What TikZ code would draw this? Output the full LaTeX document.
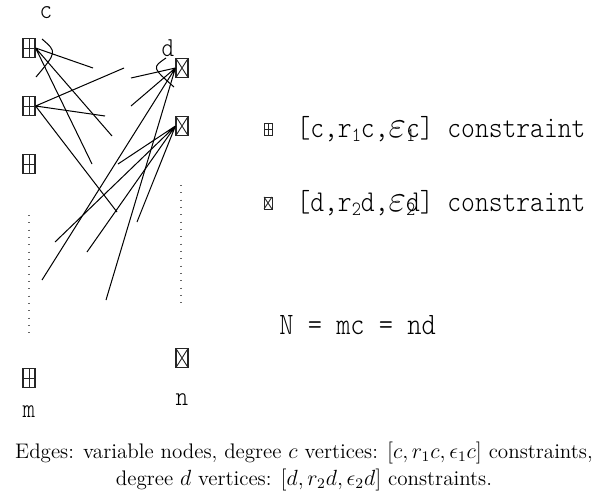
\documentclass[tikz,border=0pt]{standalone}
\usepackage{fontspec}
\usetikzlibrary{positioning}
\newfontfamily\labelfont[FakeStretch=0.87]{lmmonolt10-regular.otf}
\newcommand\lowsub[1]{\raisebox{-0.35ex}{\fontsize{11}{13}\selectfont #1}}
\tikzset{
  cbox/.style={draw=black!85, rectangle, inner sep=0pt, minimum width=6.6pt, minimum height=10.4pt, line width=0.6pt,
    path picture={\draw[black!85, line width=0.5pt] (path picture bounding box.north) -- (path picture bounding box.south)
      (path picture bounding box.west) -- (path picture bounding box.east);}},
  dbox/.style={draw=black!85, rectangle, inner sep=0pt, minimum width=6.6pt, minimum height=10.4pt, line width=0.6pt,
    path picture={\draw[black!85, line width=0.5pt] (path picture bounding box.north west) -- (path picture bounding box.south east)
      (path picture bounding box.north east) -- (path picture bounding box.south west);}},
  smallbox/.style={minimum width=4.4pt, minimum height=6.6pt, line width=0.4pt},
  lbl/.style={font=\labelfont\fontsize{15}{18}\selectfont, inner sep=0pt},
  legend/.style={font=\labelfont\fontsize{16.5}{20}\selectfont, inner sep=0pt, anchor=west},
  caption/.style={font=\fontsize{11.5}{14}\selectfont, inner sep=0pt},
  edge/.style={line width=0.55pt},
  dots/.style={black!60, line width=0.6pt, dash pattern=on 0.6pt off 3.4pt}
}
\begin{document}
\begin{tikzpicture}[x=0.546pt, y=-0.546pt]
    \useasboundingbox (0,0) rectangle (608,499);

    % degree c vertices
    \node (c1) [cbox] at (29,48) {};
    \node (c2) [cbox] at (29,106) {};
    \node (c3) [cbox] at (29,164) {};
    \node (cm) [cbox] at (29,378) {};
    % degree d vertices
    \node (d1) [dbox] at (182,68) {};
    \node (d2) [dbox] at (182,126) {};
    \node (dn) [dbox] at (182,358) {};

    \node (clabel) [lbl] at (46,13) {c};
    \node (dlabel) [lbl] at (168,48) {d};
    \node (mlabel) [lbl] at (29,412) {m};
    \node (nlabel) [lbl] at (182,400) {n};

    % loose edge ends
    \coordinate (a1) at (93,68);
    \coordinate (a2) at (112,136);
    \coordinate (a3) at (92,164);
    \coordinate (b1) at (124,68);
    \coordinate (b2) at (105,116);
    \coordinate (b3) at (117,212);
    \coordinate (p1) at (131,78);
    \coordinate (p2) at (131,106);
    \coordinate (p3) at (42,280);
    \coordinate (p4) at (106,300);
    \coordinate (q1) at (118,164);
    \coordinate (q2) at (55,242);
    \coordinate (q3) at (87,252);
    \coordinate (q4) at (137,222);

    \draw[edge] (c1.east) -- (a1) (c1.east) -- (a2) (c1.east) -- (a3);
    \draw[edge] (c2.east) -- (b1) (c2.east) -- (b2) (c2.east) -- (b3);
    \draw[edge] (d1.west) -- (p1) (d1.west) -- (p2) (d1.west) -- (p3) (d1.west) -- (p4);
    \draw[edge] (d2.west) -- (q1) (d2.west) -- (q2) (d2.west) -- (q3) (d2.west) -- (q4);

    % degree arcs
    \draw[edge] (42,39) .. controls (57,52) .. (36,77);
    \draw[edge] (166,58) .. controls (152,67.5) .. (174,87);

    \draw[dots] (29,215) -- (29,335);
    \draw[dots] (181,185) -- (181,305);

    % legend
    \node (legc) [cbox, smallbox] at (268,129) {};
    \node (legctext) [legend, right=13pt of legc] {[c,r\lowsub{1}c,{\fontsize{20}{20}\selectfont$\varepsilon$}\rlap{\lowsub{1}}c] constraint};
    \node (legd) [dbox, smallbox] at (268,203) {};
    \node (legdtext) [legend, right=13pt of legd] {[d,r\lowsub{2}d,{\fontsize{20}{20}\selectfont$\varepsilon$}\rlap{\lowsub{2}}d] constraint};
    \node (count) [legend, font=\labelfont\fontsize{17}{20}\selectfont] at (279,325) {N = mc = nd};

    \node (cap1) [caption] at (304,453) {Edges: variable nodes, degree $c$ vertices: $[c, r_1c, \epsilon_1c]$ constraints,};
    \node (cap2) [caption] at (304,480) {degree $d$ vertices: $[d, r_2d, \epsilon_2d]$ constraints.};
\end{tikzpicture}
\end{document}
